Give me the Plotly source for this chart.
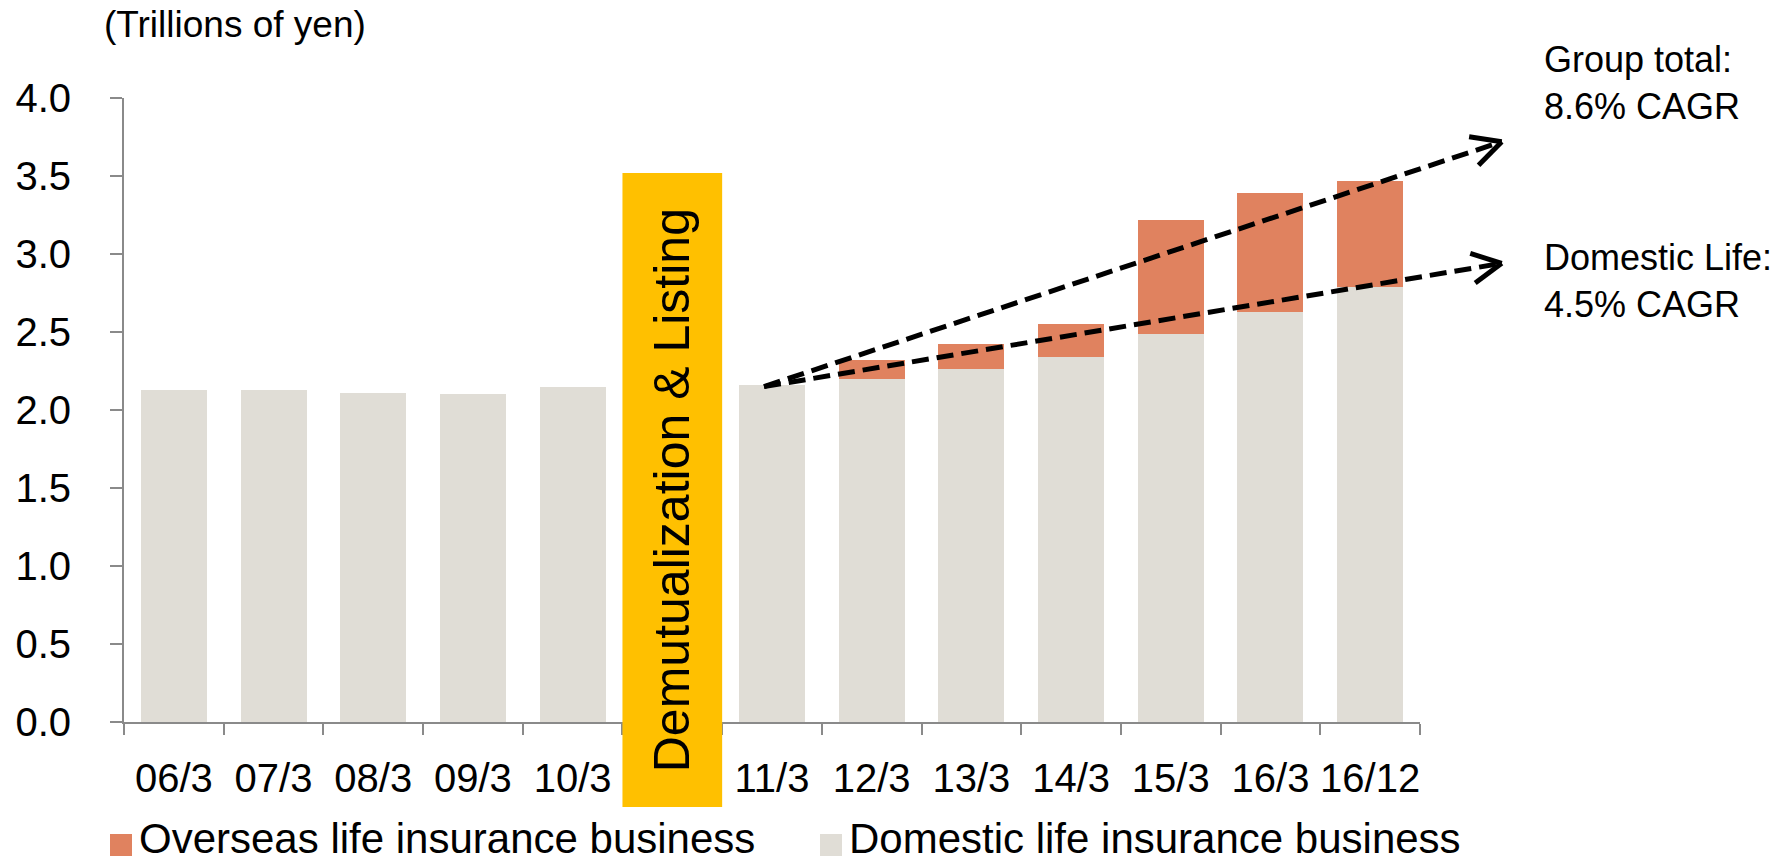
import math
import plotly.graph_objects as go

# Fiscal year-ends; the blank slot marks the demutualization / listing
categories = ["06/3", "07/3", "08/3", "09/3", "10/3", " ",
              "11/3", "12/3", "13/3", "14/3", "15/3", "16/3", "16/12"]
domestic = [2.13, 2.13, 2.11, 2.10, 2.15, None,
            2.16, 2.20, 2.26, 2.34, 2.49, 2.63, 2.79]
overseas = [None, None, None, None, None, None,
            None, 0.12, 0.16, 0.21, 0.73, 0.76, 0.68]
y_ticks = [0.0, 0.5, 1.0, 1.5, 2.0, 2.5, 3.0, 3.5, 4.0]

# Growth arrows: common start and the two tips (category index, trillions of yen)
trend_start = (5.92, 2.15)
group_tip = (13.32, 3.72)
domestic_tip = (13.32, 2.94)

FONT = "Liberation Sans, Arial, sans-serif"
GREY_AXIS = "#8a8a8a"
C_DOM = "#E0DDD6"
C_OVS = "#E0825F"
C_EVENT = "#FFC000"

W, H = 1789, 863
ML, MR, MT, MB = 124, 369, 98, 141
PW, PH = W - ML - MR, H - MT - MB
YMAX = 4.0
NCAT = len(categories)


def pix(ix, v):
    """Category index / value -> page pixel."""
    return ML + (ix + 0.5) / NCAT * PW, MT + PH * (1 - v / YMAX)


def paper(x, y):
    """Page pixel -> paper coordinates."""
    return (x - ML) / PW, (H - MB - y) / PH


fig = go.Figure()
fig.add_trace(go.Bar(x=categories, y=domestic, name="Domestic life insurance business",
                     marker=dict(color=C_DOM, line=dict(width=0)), showlegend=False))
fig.add_trace(go.Bar(x=categories, y=overseas, name="Overseas life insurance business",
                     marker=dict(color=C_OVS, line=dict(width=0)), showlegend=False))

shapes = []
annotations = []

# Demutualization & Listing band (covers the empty category, dips below the axis)
bx0, _ = pix(4.5, 0)
bx1, _ = pix(5.5, 0)
_, by1 = pix(5, 3.52)
by0 = 807
p0 = paper(bx0, by0)
p1 = paper(bx1, by1)
shapes.append(dict(type="rect", xref="paper", yref="paper", x0=p0[0], x1=p1[0],
                   y0=p0[1], y1=p1[1], fillcolor=C_EVENT, line=dict(width=0),
                   layer="above"))
annotations.append(dict(xref="paper", yref="paper", x=(p0[0] + p1[0]) / 2,
                        y=(p0[1] + p1[1]) / 2, text="Demutualization &amp; Listing",
                        textangle=-90, showarrow=False,
                        font=dict(family=FONT, size=50, color="black")))

# Dashed growth arrows
sx, sy = pix(*trend_start)
for tip in (group_tip, domestic_tip):
    tx, ty = pix(*tip)
    a = paper(sx, sy)
    b = paper(tx, ty)
    shapes.append(dict(type="line", xref="paper", yref="paper", x0=a[0], y0=a[1],
                       x1=b[0], y1=b[1], line=dict(color="black", width=5,
                                                    dash="17px,8px"), layer="above"))
    ang = math.atan2(sy - ty, sx - tx)
    for d in (-0.47, 0.47):
        ex = tx + 33 * math.cos(ang + d)
        ey = ty + 33 * math.sin(ang + d)
        e = paper(ex, ey)
        shapes.append(dict(type="line", xref="paper", yref="paper", x0=b[0], y0=b[1],
                           x1=e[0], y1=e[1], line=dict(color="black", width=5),
                           layer="above"))

# CAGR labels
for txt, yc in (("Group total:<br>8.6% CAGR", 83), ("Domestic Life:<br>4.5% CAGR", 281)):
    p = paper(1542, yc)
    annotations.append(dict(xref="paper", yref="paper", x=p[0], y=p[1], text=txt,
                            xanchor="left", yanchor="middle", align="left",
                            showarrow=False,
                            font=dict(family=FONT, size=36, color="black")))

# Unit label
p = paper(102, 25)
annotations.append(dict(xref="paper", yref="paper", x=p[0], y=p[1],
                        text="(Trillions of yen)", xanchor="left", yanchor="middle",
                        showarrow=False, font=dict(family=FONT, size=37, color="black")))

# Legend
for label, color, sq_x in (("Overseas life insurance business", C_OVS, 110),
                           ("Domestic life insurance business", C_DOM, 820)):
    q0 = paper(sq_x, 856)
    q1 = paper(sq_x + 22, 834)
    shapes.append(dict(type="rect", xref="paper", yref="paper", x0=q0[0], x1=q1[0],
                       y0=q0[1], y1=q1[1], fillcolor=color, line=dict(width=0)))
    t = paper(sq_x + 27, 838)
    annotations.append(dict(xref="paper", yref="paper", x=t[0], y=t[1], text=label,
                            xanchor="left", yanchor="middle", showarrow=False,
                            font=dict(family=FONT, size=42, color="black")))

fig.update_layout(
    width=W, height=H,
    margin=dict(l=ML, r=MR, t=MT, b=MB, pad=0),
    barmode="stack", bargap=0.338,
    plot_bgcolor="white", paper_bgcolor="white",
    font=dict(family=FONT, color="black"),
    shapes=shapes, annotations=annotations,
    xaxis=dict(type="category", categoryorder="array", categoryarray=categories,
               range=[-0.5, NCAT - 0.5], tickson="boundaries", ticks="outside",
               ticklen=11, tickwidth=2, tickcolor=GREY_AXIS, showline=True,
               linecolor=GREY_AXIS, linewidth=2, showgrid=False, zeroline=False,
               tickangle=0,
               tickfont=dict(family=FONT, size=40, color="black"),
               ticklabelstandoff=20, fixedrange=True),
    yaxis=dict(range=[0, YMAX], tickvals=y_ticks, tickformat=".1f", ticks="outside",
               ticklen=12, tickwidth=2, tickcolor=GREY_AXIS, showline=True,
               linecolor=GREY_AXIS, linewidth=2, showgrid=False, zeroline=False,
               tickfont=dict(family=FONT, size=40, color="black"),
               ticklabelstandoff=31, fixedrange=True),
)

fig.write_html("out.html")
